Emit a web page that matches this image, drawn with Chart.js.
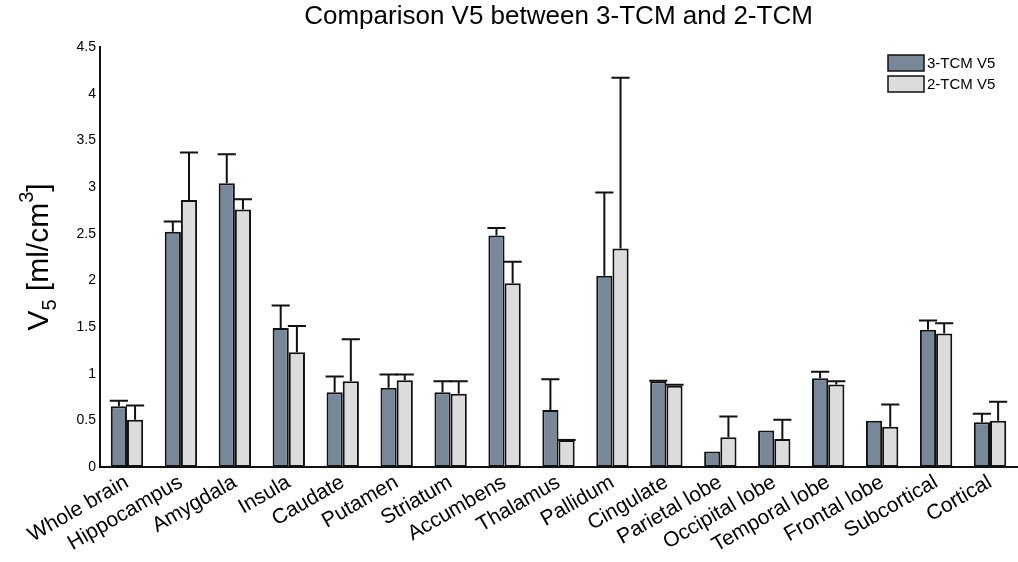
<!DOCTYPE html>
<html>
<head>
<meta charset="utf-8">
<script src="https://cdn.jsdelivr.net/npm/chart.js@4.4.0/dist/chart.umd.min.js"></script>
<style>
  html, body { margin: 0; padding: 0; background: #fff; }
  #wrap { width: 1018px; height: 562px; }
</style>
</head>
<body>
<div id="wrap"><canvas id="barChart"></canvas></div>
<script>
// regions on the x axis
const regions = ['Whole brain', 'Hippocampus', 'Amygdala', 'Insula', 'Caudate', 'Putamen', 'Striatum',
    'Accumbens', 'Thalamus', 'Pallidum', 'Cingulate', 'Parietal lobe', 'Occipital lobe', 'Temporal lobe',
    'Frontal lobe', 'Subcortical', 'Cortical'];

// 3-TCM V5 mean and upper error
const tcm3 = [0.65, 2.52, 3.04, 1.49, 0.80, 0.85, 0.80, 2.48, 0.61, 2.05, 0.92, 0.165, 0.39, 0.95, 0.495, 1.47, 0.48];
const tcm3Err = [0.06, 0.11, 0.31, 0.24, 0.17, 0.14, 0.12, 0.08, 0.33, 0.89, 0.005, null, null, 0.07, null, 0.10, 0.09];

// 2-TCM V5 mean and upper error
const tcm2 = [0.505, 2.86, 2.76, 1.23, 0.92, 0.93, 0.785, 1.97, 0.29, 2.34, 0.87, 0.32, 0.30, 0.885, 0.43, 1.43, 0.495];
const tcm2Err = [0.155, 0.51, 0.11, 0.28, 0.45, 0.06, 0.135, 0.23, 0, 1.83, 0.01, 0.22, 0.205, 0.035, 0.24, 0.11, 0.205];

const yTicks = [0, 0.5, 1, 1.5, 2, 2.5, 3, 3.5, 4, 4.5];

const chartTitle = 'Comparison V5 between 3-TCM and 2-TCM';

const darkFill = '#778899';
const lightFill = '#dcdcdc';
const edge = '#111111';
const fontFamily = '"Liberation Sans", Arial, sans-serif';

// upper error bars, drawn on top of the bars
const errorBars = {
    id: 'errorBars',
    afterDatasetsDraw(chart) {
        const ctx = chart.ctx;
        const yScale = chart.scales.y;
        ctx.save();
        ctx.strokeStyle = edge;
        ctx.lineWidth = 2;
        chart.data.datasets.forEach((ds, i) => {
            const meta = chart.getDatasetMeta(i);
            meta.data.forEach((bar, j) => {
                const err = ds.errors[j];
                if (err === null || err === undefined) return;
                const yBase = yScale.getPixelForValue(ds.data[j]);
                const yTop = yScale.getPixelForValue(ds.data[j] + err);
                const half = bar.width / 2 + 1;
                ctx.beginPath();
                ctx.moveTo(bar.x, yBase);
                ctx.lineTo(bar.x, yTop);
                ctx.moveTo(bar.x - half, yTop);
                ctx.lineTo(bar.x + half, yTop);
                ctx.stroke();
            });
        });
        ctx.restore();
    }
};

// title over the plot area, y title with sub/superscript, boxed legend top right
const extras = {
    id: 'extras',
    afterDraw(chart) {
        const ctx = chart.ctx;
        const area = chart.chartArea;
        ctx.save();

        // title, centred on the plot area
        ctx.fillStyle = '#000';
        ctx.font = '26px ' + fontFamily;
        ctx.textAlign = 'center';
        ctx.textBaseline = 'alphabetic';
        ctx.fillText(chartTitle, (area.left + area.right) / 2, 24);

        // y axis title
        ctx.textAlign = 'left';
        const big = '30px ' + fontFamily;
        const small = '20px ' + fontFamily;
        ctx.font = big;
        const wV = ctx.measureText('V').width;
        const wMid = ctx.measureText(' [ml/cm').width;
        const wEnd = ctx.measureText(']').width;
        ctx.font = small;
        const w5 = ctx.measureText('5').width;
        const w3 = ctx.measureText('3').width;
        const total = wV + w5 + wMid + w3 + wEnd;
        const cy = (area.top + area.bottom) / 2;
        ctx.translate(48, cy);
        ctx.rotate(-Math.PI / 2);
        let x = -total / 2;
        ctx.font = big;
        ctx.fillText('V', x, 0); x += wV;
        ctx.font = small;
        ctx.fillText('5', x, 8); x += w5;
        ctx.font = big;
        ctx.fillText(' [ml/cm', x, 0); x += wMid;
        ctx.font = small;
        ctx.fillText('3', x, -15); x += w3;
        ctx.font = big;
        ctx.fillText(']', x, 0);
        ctx.setTransform(1, 0, 0, 1, 0, 0);

        // legend
        ctx.font = '15px ' + fontFamily;
        ctx.textBaseline = 'middle';
        chart.data.datasets.forEach((ds, i) => {
            const bx = 888, by = 55 + i * 21, bw = 36, bh = 16;
            ctx.fillStyle = ds.backgroundColor;
            ctx.fillRect(bx, by, bw, bh);
            ctx.strokeStyle = edge;
            ctx.lineWidth = 1.5;
            ctx.strokeRect(bx, by, bw, bh);
            ctx.fillStyle = '#000';
            ctx.fillText(ds.label, bx + bw + 3, by + bh / 2 + 1);
        });
        ctx.restore();
    }
};

const ctx = document.getElementById('barChart').getContext('2d');
new Chart(ctx, {
    type: 'bar',
    data: {
        labels: regions,
        datasets: [
            {
                label: '3-TCM V5',
                data: tcm3,
                errors: tcm3Err,
                backgroundColor: darkFill,
                borderColor: edge,
                borderWidth: 2,
                borderSkipped: false
            },
            {
                label: '2-TCM V5',
                data: tcm2,
                errors: tcm2Err,
                backgroundColor: lightFill,
                borderColor: edge,
                borderWidth: 2,
                borderSkipped: false
            }
        ]
    },
    options: {
        responsive: true,
        maintainAspectRatio: false,
        animation: false,
        layout: { padding: { left: 0, right: 1, top: 47, bottom: 0 } },
        datasets: {
            bar: { categoryPercentage: 0.6, barPercentage: 1.0 }
        },
        plugins: {
            legend: { display: false },
            tooltip: { enabled: false },
            title: { display: false }
        },
        scales: {
            x: {
                grid: { display: false, drawTicks: false },
                border: { display: true, color: edge, width: 2 },
                ticks: {
                    color: '#000',
                    font: { family: fontFamily, size: 21 },
                    minRotation: 30,
                    maxRotation: 30,
                    padding: 3,
                    autoSkip: false
                },
                afterFit(scale) { scale.height = 95; }
            },
            y: {
                min: 0,
                max: 4.5,
                grid: { display: false, drawTicks: false },
                border: { display: true, color: edge, width: 2 },
                afterBuildTicks(scale) { scale.ticks = yTicks.map(v => ({ value: v })); },
                ticks: {
                    color: '#000',
                    font: { family: fontFamily, size: 14 },
                    padding: 4,
                    callback: (value) => String(value)
                },
                afterFit(scale) { scale.width = 100; }
            }
        }
    },
    plugins: [errorBars, extras]
});
</script>
</body>
</html>
